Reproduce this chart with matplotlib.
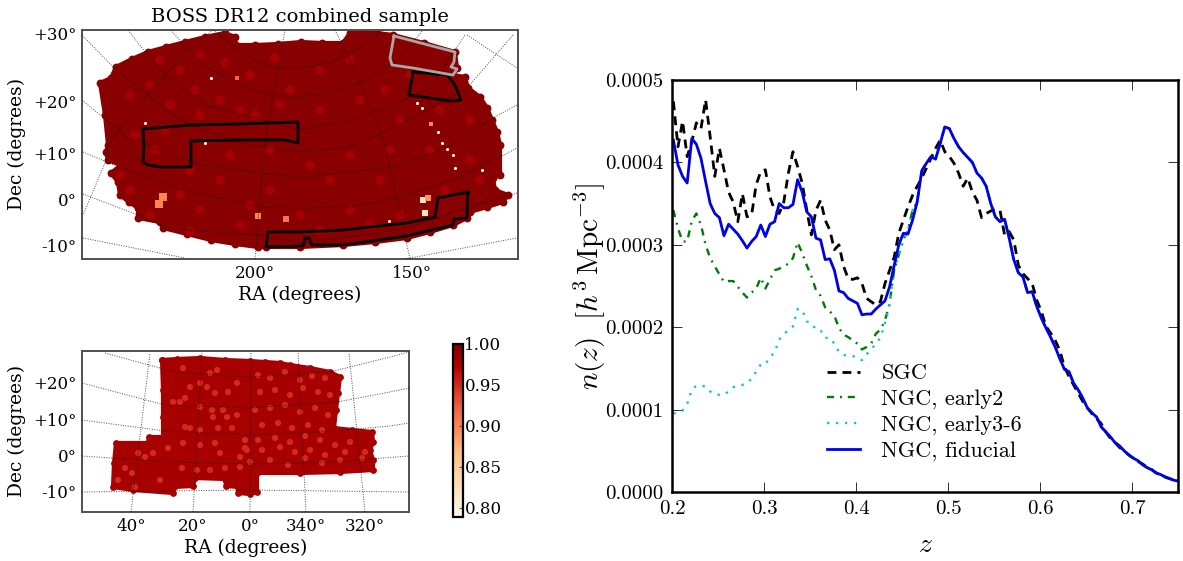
import numpy as np
import matplotlib
matplotlib.use('Agg')
import matplotlib.pyplot as plt
from matplotlib.cm import ScalarMappable
from matplotlib.colors import Normalize

plt.rcParams['mathtext.fontset'] = 'cm'
plt.rcParams['font.family'] = 'DejaVu Serif'

W, H = 1183, 561

# n(z), units of 1e-4, one value per 0.005 bin in z
n_fid = [4.27,3.97,3.83,3.75,4.29,4.22,4.05,3.77,3.50,3.38,3.33,3.11,3.25,3.19,3.13,3.05,2.96,3.04,3.10,3.24,
         3.10,3.25,3.28,3.50,3.45,3.45,3.49,3.79,3.64,3.40,3.34,3.08,3.06,2.82,2.83,2.69,2.44,2.42,2.35,2.32,
         2.29,2.15,2.16,2.16,2.22,2.27,2.32,2.49,2.75,3.00,3.14,3.13,3.30,3.52,3.90,3.99,4.07,4.04,4.23,4.43,
         4.41,4.29,4.19,4.12,4.06,4.00,3.87,3.81,3.71,3.50,3.34,3.28,3.31,3.08,2.82,2.66,2.61,2.42,2.43,2.25,
         2.11,1.99,1.88,1.76,1.62,1.49,1.46,1.32,1.24,1.14,1.02,0.96,0.91,0.79,0.73,0.67,0.60,0.56,0.50,0.45,
         0.41,0.38,0.33,0.295,0.27,0.23,0.21,0.18,0.16,0.14,0.13]
n_sgc = [4.74,4.19,4.50,4.07,4.25,4.48,4.41,4.76,4.31,3.83,4.17,3.91,3.64,3.52,3.28,3.62,3.34,3.36,3.73,3.89,
         3.91,3.58,3.42,3.38,3.52,3.87,4.13,3.95,3.75,3.42,3.12,3.42,3.54,3.30,3.18,2.94,3.00,2.74,2.59,2.58,
         2.60,2.53,2.35,2.31,2.27,2.31,2.53,2.69,2.85,3.14,3.30,3.46,3.60,3.71,3.81,3.93,4.05,4.17,4.27,4.13,
         4.07,3.99,3.87,3.71,3.81,3.64,3.54,3.33,3.38,3.41,3.43,3.42,3.12,3.16,3.06,2.75,2.65,2.59,2.53,2.33,
         2.19,2.01,1.93,1.84,1.72,1.52,1.40,1.30,1.20,1.10,1.02,0.95,0.89,0.83,0.73,0.65,0.60,0.54,0.50,0.45,
         0.41,0.37,0.34,0.30,0.27,0.23,0.21,0.18,0.16,0.14,0.13]
n_early2 = [3.42,3.20,3.04,3.04,3.29,3.38,3.24,3.00,2.84,2.74,2.64,2.55,2.56,2.56,2.49,2.42,2.36,2.42,2.47,2.60,
            2.47,2.58,2.69,2.71,2.74,2.77,2.84,3.03,2.90,2.75,2.62,2.45,2.38,2.24,2.19,2.14,1.99,1.91,1.88,1.84,
            1.80,1.73,1.76,1.80,1.92,1.97,2.08,2.29,2.69,2.88,3.06,3.18,3.42] + n_fid[53:]
n_early36 = [0.955,0.96,0.99,1.07,1.24,1.29,1.29,1.28,1.22,1.19,1.18,1.18,1.22,1.27,1.29,1.30,1.32,1.375,1.46,1.55,
             1.55,1.64,1.69,1.85,1.91,1.97,2.01,2.22,2.21,2.07,2.05,1.97,1.96,1.87,1.87,1.80,1.70,1.66,1.66,1.65,
             1.63,1.60,1.67,1.73,1.80,1.87,2.05,2.28,2.69,2.88,3.06,3.18,3.42] + n_fid[53:]
z_bins = 0.2015 + 0.005 * np.arange(len(n_fid))

# map plane coordinates below are image pixels of each sky panel
top_edge_x = [108,105,100,111,116,132,148,166,185,205,225,235,236,255,278,301,322,343,350,360,377,393,424,455,457,453,465,468,480,487,492,497,500,500,493,495,508,503,487,470,467,453,430,407,375,343,300,266,258,235,211,187,163,160,138,138,129,120,118,111,121,108,106]
top_edge_y = [145,115,83,78,67,59,52,47,42,37,33,37,45,45,44,42,43,43,33,32,33,35,43,52,68,75,77,88,97,108,120,132,145,175,178,190,195,202,207,212,218,225,232,238,242,245,247,247,247,244,240,234,228,222,218,208,202,195,182,173,165,160,152]

top_mark_x = [163,159,258,286,423,425,428,431,237]
top_mark_y = [197,204,216,219,200,213,198,124,78]
top_mark_val = [0.90,0.90,0.90,0.91,0.82,0.82,0.89,0.90,0.92]
top_spot_x = [160,180,200,225,250,275,130,150,170,195,220,255,290,320,350,385,410,135,165,200,240,280,320,360,400,440,470,120,155,190,230,270,310,350,390,430,470,130,180,220,270,330,380,445,480,150,200,250,300,350,400,190,240,320,370]
top_spot_y = [60,70,55,62,75,58,95,85,105,90,100,115,90,70,60,90,75,135,130,115,110,105,110,100,120,110,120,175,150,170,155,150,165,155,150,150,160,190,195,180,190,180,180,190,180,215,210,205,215,210,215,232,225,230,225]
top_spot_val = [0.98] * len(top_spot_x)
top_hole_x = [145,482,389,211,205,417,422,438,442,447,453,455]
top_hole_y = [123,170,221,78,143,103,108,132,143,149,155,168]

box1_x = [143,190,240,298,298,285,240,191,191,160,148,143,144,143]
box1_y = [129,125,124,122,143,140,140,141,167,167,165,162,145,129]
box2_x = [413,447,455,461,450,409,413]
box2_y = [72,75,85,100,101,95,72]
box3_x = [468,438,435,407,343,300,268,266,303,305,309,312,343,407,453,454,467,468]
box3_y = [192,198,217,223,230,232,232,247,246,238,238,245,245,236,225,219,218,192]
grey_x = [394,455,454,451,457,453,447,413,392,390,394]
grey_y = [36,52,62,67,69,75,74,68,65,58,36]

top_arcs = [
    ([83,138,165,211,258,300,400,467,517], [194,215,227,232,235,243,230,208,193]),
    ([83,121,178,258,300,350,400,457,500,517], [152,168,188,207,208,207,197,178,157,148]),
    ([82,128,200,300,390,447,493,517], [100,138,165,178,167,148,118,105]),
    ([82,116,180,240,300,350,400,430,467,500,513], [35,70,120,143,152,147,125,108,88,50,35]),
    ([128,146,165,205,301,350,393,430,465], [30,53,75,105,130,120,105,88,35]),
    ([171,181,206,238,271,301,333,367,400,423], [30,42,67,85,95,97,92,80,58,30]),
    ([213,235,255,278,301,333,360,383], [30,47,60,68,68,62,48,30]),
    ([83,185], [238,258]),
    ([405,517], [259,238]),
]
top_meridians = [
    ([255,265,285], [259,140,30]),
    ([213,188,165,141,108,105,83], [30,50,75,102,145,163,215]),
    ([335,360,385,410], [30,82,145,259]),
    ([467,517], [35,68]),
]

bot_edge_x = [162,177,200,225,250,265,280,290,310,330,340,338,336,334,352,372,373,370,373,373,340,300,257,257,250,238,238,226,225,195,193,174,173,133,113,114,116,148,149,163,163,163,162]
bot_edge_y = [360,359,358,360,361,362,363,365,368,372,377,393,410,428,430,432,442,450,460,470,472,473,473,492,494,493,487,486,479,478,486,487,493,490,487,463,443,443,437,437,417,390,360]

bot_spot_x = [183,217,210,190,200,207,215,228,237,173,180,185,200,212,223,237,213,227,185,190,200,218,232,245,168,200,183,215,220,138,145,153,125,132,182,197,210,225,240,160,135,118,240,247,
              258,270,285,300,312,325,260,275,290,303,318,330,255,270,285,300,315,328,262,278,292,308,322,258,275,290,305,320,335,350,245,262,280,295,310,325,345,362,250,270,288,305,322,340,365]
bot_spot_y = [368,370,373,387,383,387,393,392,383,402,402,398,407,410,410,415,417,417,427,428,430,428,428,440,448,445,443,443,453,453,457,453,468,473,468,470,470,468,467,480,487,480,457,450,
              375,378,372,380,376,378,392,390,395,388,392,395,410,408,405,412,408,415,425,423,428,425,430,440,438,442,436,440,445,442,448,450,447,452,450,455,452,458,462,460,465,458,463,460,452]
bot_spot_val = [0.95] * len(bot_spot_x)

bot_arcs = [
    ([82,250,409], [492,490,492]),
    ([82,170,250,330,409], [456,462,464,462,456]),
    ([82,165,250,335,390,409], [420,431,435,431,426,423]),
    ([82,165,250,337,390,409], [383,405,408,402,392,388]),
    ([105,145,175,250,330,390,409], [353,364,372,377,372,357,352]),
]
bot_meridians = [
    ([131,150], [512,353]),
    ([193,202], [512,353]),
    ([250,251], [512,353]),
    ([306,298], [512,353]),
    ([365,349], [512,353]),
]

top_xticks = [255, 412]
top_xlabels = ['200°', '150°']
top_yticks = [33, 101, 153, 200, 246]
top_ylabels = ['+30°', '+20°', '+10°', '0°', '-10°']
bot_xticks = [131, 193, 250, 306, 365]
bot_xlabels = ['40°', '20°', '0°', '340°', '320°']
bot_yticks = [383, 420, 456, 492]
bot_ylabels = ['+20°', '+10°', '0°', '-10°']
cbar_ticks = [0.80, 0.85, 0.90, 0.95, 1.00]
z_ticks = [0.2, 0.3, 0.4, 0.5, 0.6, 0.7]
n_ticks = [0, 1, 2, 3, 4, 5]

norm = Normalize(vmin=0.789, vmax=1.0)
cmap = plt.cm.OrRd


def pixel_axes(fig, left, right, top, bottom):
    return fig.add_axes([left / W, 1 - bottom / H, (right - left) / W, (bottom - top) / H])


def sky_panel(ax, lims, edge, base, bump, spots, arcs, meridians):
    ax.set_xlim(lims[0], lims[1])
    ax.set_ylim(lims[3], lims[2])
    col = cmap(norm(base))
    ax.fill(edge[0], edge[1], facecolor=col, edgecolor=col, lw=3, joinstyle='round', zorder=1)
    ax.scatter(edge[0], edge[1], s=bump, color=col, lw=0, zorder=1)
    ax.scatter(spots[0], spots[1], s=spots[3], c=spots[2], cmap=cmap, norm=norm, lw=0, zorder=2)
    for xs, ys in arcs + meridians:
        ax.plot(xs, ys, color='k', lw=0.7, ls=(0, (1, 1.5)), alpha=0.7, zorder=3)
    for s in ax.spines.values():
        s.set_linewidth(1.4)
        s.set_color('#505050')
    ax.tick_params(length=0, labelsize=12, pad=4)


fig = plt.figure(figsize=(W / 100, H / 100), dpi=100)

ax1 = pixel_axes(fig, 82, 518, 30, 259)
sky_panel(ax1, (82, 518, 30, 259), (top_edge_x, top_edge_y), 0.995, 32,
          (top_spot_x, top_spot_y, top_spot_val, 45), top_arcs, top_meridians)
ax1.scatter(top_mark_x, top_mark_y, s=[28,28,14,14,14,14,14,6,5], c=top_mark_val, cmap=cmap, norm=norm,
            marker='s', lw=0, zorder=2)
ax1.scatter(top_hole_x, top_hole_y, s=5, color='white', lw=0, zorder=2)
ax1.plot(box1_x, box1_y, color='k', lw=2, zorder=4)
ax1.plot(box2_x, box2_y, color='k', lw=2, zorder=4)
ax1.plot(box3_x, box3_y, color='k', lw=2, zorder=4)
ax1.plot(grey_x, grey_y, color='#a8a8a8', lw=2, zorder=4)
ax1.set_xticks(top_xticks)
ax1.set_xticklabels(top_xlabels)
ax1.set_yticks(top_yticks)
ax1.set_yticklabels(top_ylabels)
ax1.set_title('BOSS DR12 combined sample', fontsize=14, pad=6)
ax1.set_xlabel('RA (degrees)', fontsize=13.4, labelpad=3)
fig.text(17 / W, 1 - 144 / H, 'Dec (degrees)', rotation=90, fontsize=13.4, ha='center', va='center')

ax2 = pixel_axes(fig, 82, 409, 351, 512)
sky_panel(ax2, (82, 409, 351, 512), (bot_edge_x, bot_edge_y), 0.98, 24,
          (bot_spot_x, bot_spot_y, bot_spot_val, 20), bot_arcs, bot_meridians)
ax2.set_xticks(bot_xticks)
ax2.set_xticklabels(bot_xlabels)
ax2.set_yticks(bot_yticks)
ax2.set_yticklabels(bot_ylabels)
ax2.set_xlabel('RA (degrees)', fontsize=13.4, labelpad=3)
fig.text(17 / W, 1 - 431 / H, 'Dec (degrees)', rotation=90, fontsize=13.4, ha='center', va='center')

cax = pixel_axes(fig, 453, 463, 344, 517)
cb = fig.colorbar(ScalarMappable(norm=norm, cmap=cmap), cax=cax)
cb.set_ticks(cbar_ticks)
cb.set_ticklabels(['%.2f' % t for t in cbar_ticks])
cb.ax.tick_params(direction='in', length=3, width=0.8, labelsize=12, pad=1, color='#505050')
cb.outline.set_linewidth(1.6)

# n(z) panel
ax3 = pixel_axes(fig, 672, 1178, 80, 492)
ax3.plot(z_bins, n_sgc, color='k', lw=2, dashes=(3.2, 2.2), label='SGC')
ax3.plot(z_bins, n_early2, color='#007a00', lw=1.7, dashes=(3, 2.5, 0.8, 2.5), label='NGC, early2')
ax3.plot(z_bins, n_early36, color='#10c8c8', lw=1.7, dashes=(1, 2.8), label='NGC, early3-6')
ax3.plot(z_bins, n_fid, color='#0000e8', lw=2, label='NGC, fiducial')
ax3.set_xlim(0.2, 0.75)
ax3.set_ylim(0, 5)
ax3.set_xticks(z_ticks)
ax3.set_xticklabels(['%.1f' % t for t in z_ticks], family='cmr10', fontsize=15)
ax3.set_yticks(n_ticks)
ax3.set_yticklabels(['%.4f' % (t * 1e-4) for t in n_ticks], family='cmr10', fontsize=15)
ax3.tick_params(direction='in', top=True, right=True, length=7, width=0.7, pad=6, color='#303030')
for s in ax3.spines.values():
    s.set_linewidth(1.8)
ax3.set_xlabel(r'$z$', fontsize=20, labelpad=9)
ax3.set_ylabel(r'$n(z)\ \ [h^3\,\mathrm{Mpc}^{-3}]$', fontsize=21, labelpad=-2)
leg = ax3.legend(loc='lower left', bbox_to_anchor=(0.306, 0.075), frameon=False,
                 prop={'family': 'cmr10', 'size': 16}, handlelength=1.5, labelspacing=0.27,
                 handletextpad=0.95, borderpad=0, borderaxespad=0)

fig.savefig('out.png', dpi=100)
